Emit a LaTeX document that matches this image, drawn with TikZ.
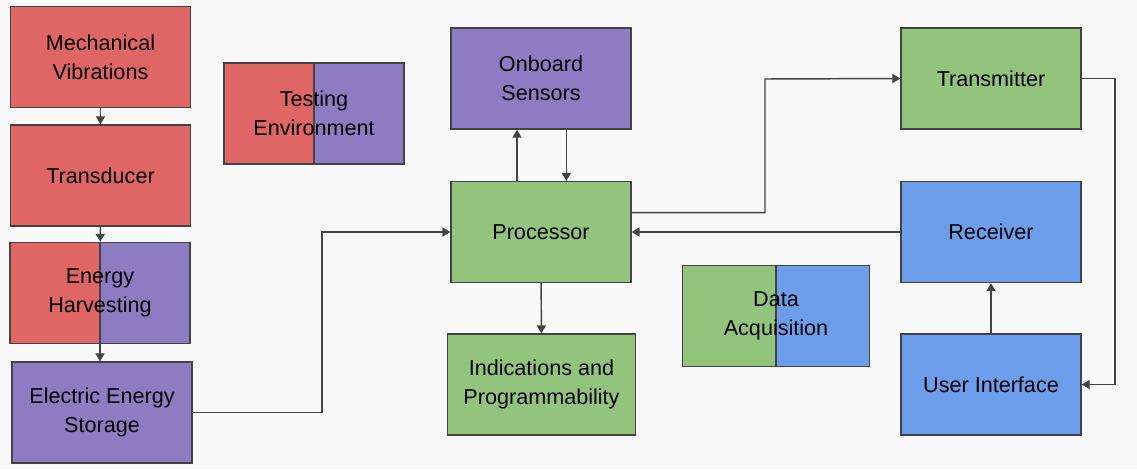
\documentclass[tikz,border=0pt]{standalone}
\usepackage{fontspec}
\setmainfont{Liberation Sans}
\usetikzlibrary{arrows.meta,calc}

\definecolor{redbox}{HTML}{E06666}
\definecolor{purplebox}{HTML}{8E7CC3}
\definecolor{greenbox}{HTML}{93C47D}
\definecolor{bluebox}{HTML}{6D9EEB}
\definecolor{edge}{HTML}{434343}
\definecolor{paper}{HTML}{F8F8F8}

\tikzset{every picture/.style={line width=0.75pt}}
\tikzset{
  block/.style={draw=edge, line width=1pt, minimum width=135pt, minimum height=75.75pt,
    inner sep=0pt, align=center, font=\fontsize{16.2}{22}\selectfont},
  halves/.style 2 args={path picture={
    \fill[#1] (path picture bounding box.south west) rectangle (path picture bounding box.north);
    \fill[#2] (path picture bounding box.south) rectangle (path picture bounding box.north east);
    \draw[edge, line width=1pt] (path picture bounding box.south) -- (path picture bounding box.north);}},
  link/.style={draw=edge, line width=1.1pt, -{Triangle[length=6pt,width=6.8pt]}},
  plain/.style={draw=edge, line width=1.1pt}
}

\begin{document}
\begin{tikzpicture}[x=0.75pt,y=0.75pt,yscale=-1,xscale=1]
%set diagram frame
\fill [paper] (0,0) rectangle (1137,469);
\useasboundingbox (0,0) rectangle (1137,469);

%Left column
\node (mech) at (100.5,57) [block, fill=redbox] {Mechanical\\Vibrations};
\node (trans) at (100.5,175.5) [block, fill=redbox] {Transducer};
\node (harv) at (100,293) [block, halves={redbox}{purplebox}] {Energy\\Harvesting};
\node (stor) at (102,412.5) [block, fill=purplebox] {Electric Energy\\Storage};
\node (test) at (314,113.5) [block, halves={redbox}{purplebox}] {Testing\\Environment};

%Middle column
\node (onb) at (541,78.5) [block, fill=purplebox] {Onboard\\Sensors};
\node (proc) at (541,232) [block, fill=greenbox] {Processor};
\node (ind) at (541.5,384.5) [block, fill=greenbox, minimum width=141pt] {Indications and\\Programmability};
\node (daq) at (776,316) [block, halves={greenbox}{bluebox}, minimum width=140pt] {Data\\Acquisition};

%Right column
\node (tx) at (991,78.5) [block, fill=greenbox] {Transmitter};
\node (rx) at (991,232) [block, fill=bluebox] {Receiver};
\node (ui) at (991,384.5) [block, fill=bluebox] {User Interface};

%Bend points
\coordinate (j1) at (322,232);
\coordinate (j2) at (765,79);
\coordinate (j3) at (1115,232);

%Connectors
\draw [link] (mech) -- (trans);
\draw [link] (trans) -- (harv);
\draw [link] (harv.south) -- (harv.south |- stor.north);
\draw [link] (stor.east) -- (stor.east -| j1) -- (j1) -- (proc.west);
\draw [link] ([xshift=-18pt]proc.north) -- ([xshift=-18pt]onb.south);
\draw [link] ([xshift=19pt]onb.south) -- ([xshift=19pt]proc.north);
\draw [link] ([yshift=-14.5pt]proc.east) -- ([yshift=-14.5pt]proc.east -| j2) -- (j2) -- (tx.west);
\draw [link] (rx.west) -- (proc.east);
\draw [link] (proc) -- (ind);
\draw [link] (ui) -- (rx);
\draw [link] (tx.east) -- (tx.east -| j3) -- (j3 |- ui.east) -- (ui.east);
\end{tikzpicture}
\end{document}
